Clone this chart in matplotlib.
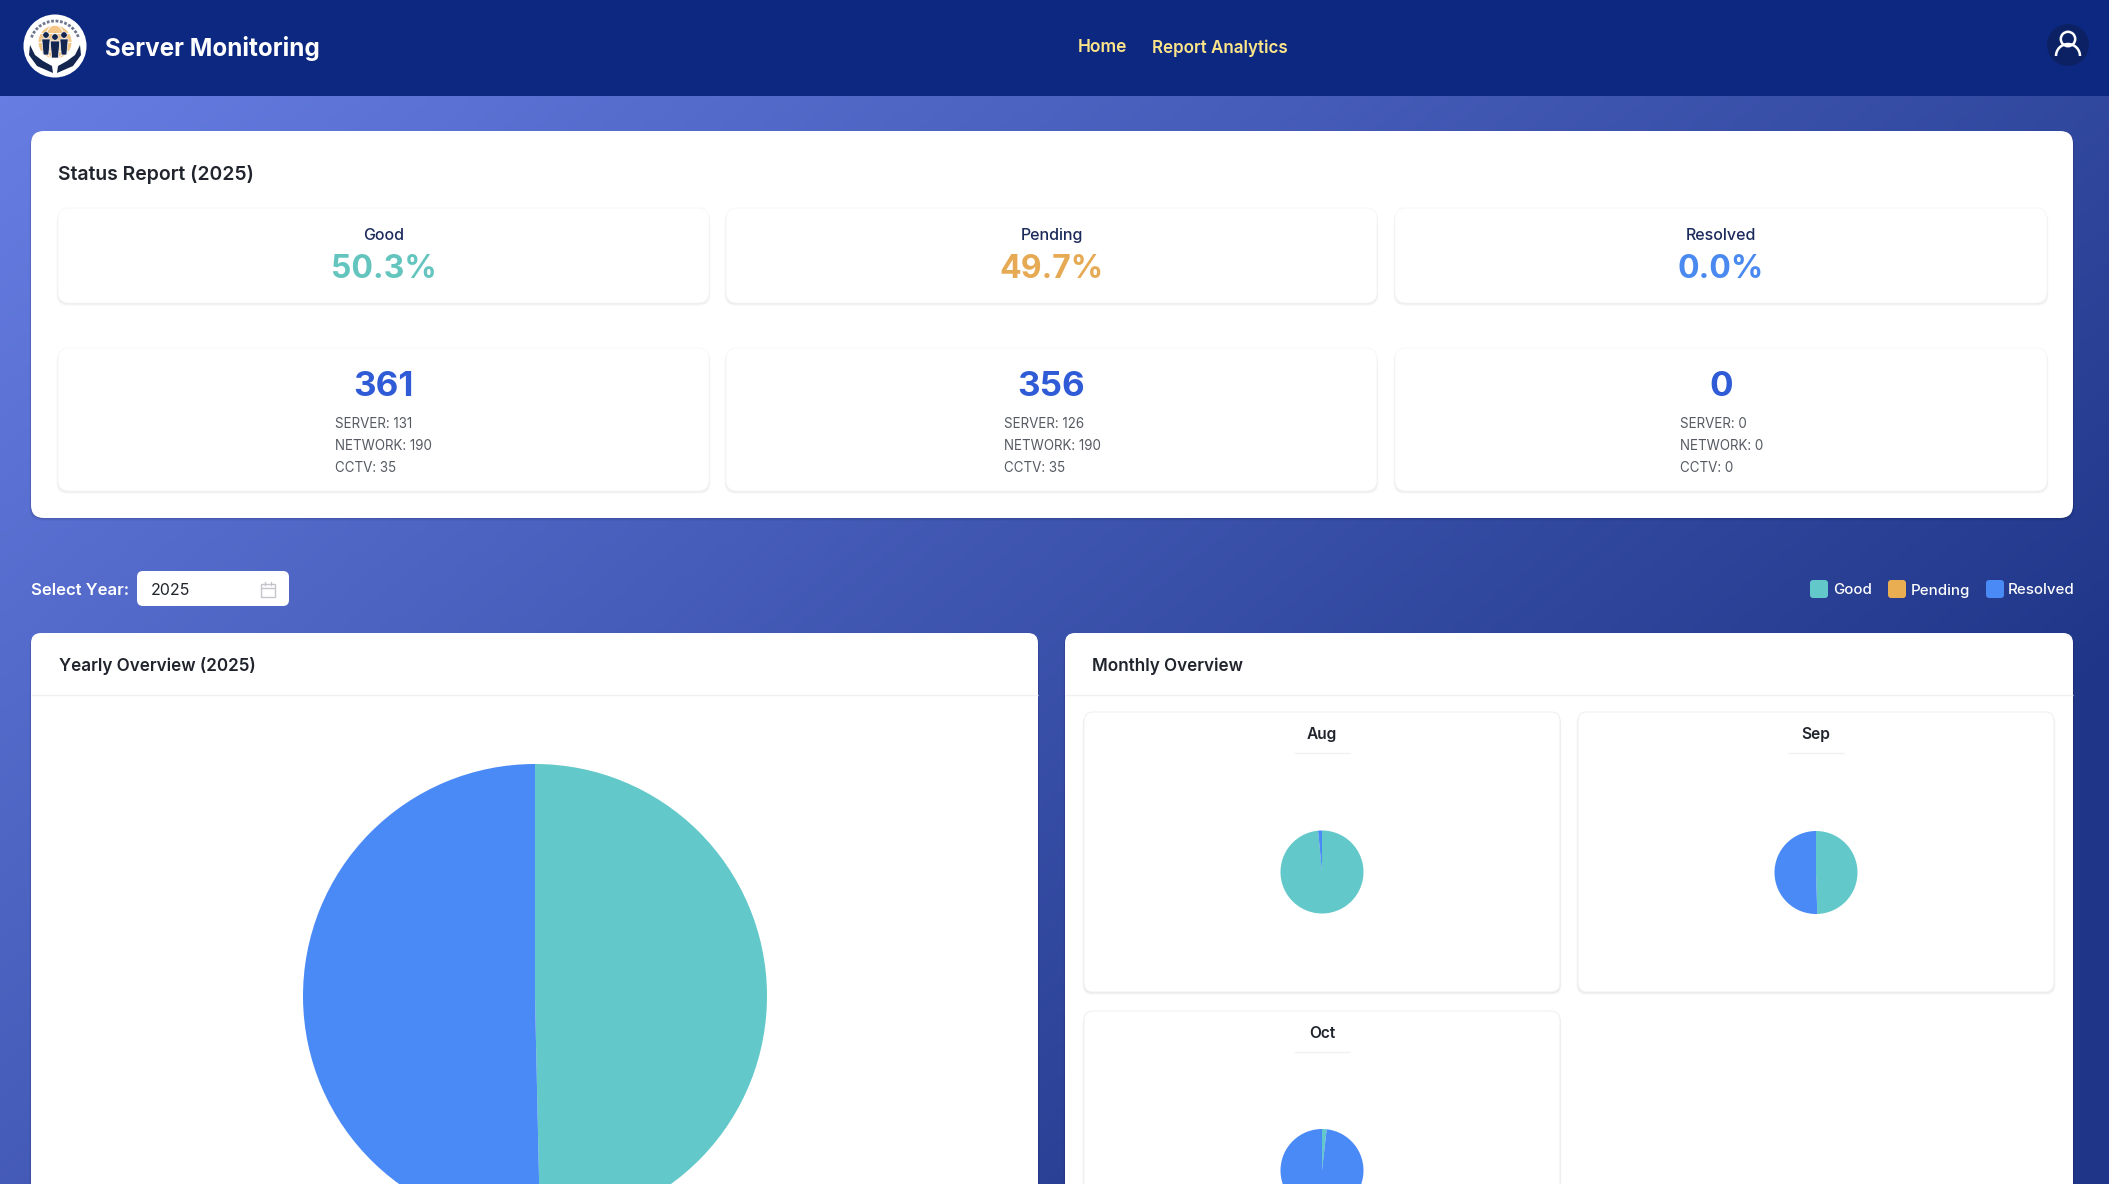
import numpy as np
import matplotlib
matplotlib.use("Agg")
import matplotlib.pyplot as plt
from matplotlib.patches import FancyBboxPatch, Circle, Rectangle, Polygon, Arc, Ellipse
from matplotlib.colors import to_rgb

# ---------- data ----------
APP_TITLE = "Server Monitoring"
NAV_ITEMS = ["Home", "Report Analytics"]
STATUS_TITLE = "Status Report (2025)"
STATUSES = ["Good", "Pending", "Resolved"]
PERCENTS = ["50.3%", "49.7%", "0.0%"]
TOTALS = [361, 356, 0]
SERVER = [131, 126, 0]
NETWORK = [190, 190, 0]
CCTV = [35, 35, 0]
YEAR = "2025"
YEARLY_VALUES = [356, 361, 0]       # as drawn: Good, Pending, Resolved slices
MONTHS = ["Aug", "Sep", "Oct"]
MONTH_GOOD = [98.5, 49.5, 1.8]
MONTH_PENDING = [1.5, 50.5, 98.2]
MONTH_RESOLVED = [0, 0, 0]

# ---------- style ----------
W, H = 2109, 1184
TEAL, ORANGE, BLUE = "#62c8c9", "#e9ad52", "#4a8af6"
PCT_COLORS = ["#64c5bf", "#e6aa55", "#4a8af0"]
PIE_COLORS = [TEAL, BLUE, ORANGE]
NAVY = "#0d2880"
plt.rcParams["font.family"] = ["Inter", "Liberation Sans", "DejaVu Sans"]

fig = plt.figure(figsize=(W / 100, H / 100), dpi=100)
bg = fig.add_axes([0, 0, 1, 1])
bg.set_xlim(0, W)
bg.set_ylim(H, 0)
bg.axis("off")

# gradient page background
xx, yy = np.meshgrid(np.arange(0, W, 4), np.arange(0, H, 4))
t = np.clip(xx * 0.00034 + yy * 0.00042, 0, 1)[..., None]
c0, c1 = np.array(to_rgb("#6a80e6")), np.array(to_rgb("#1f3688"))
bg.imshow(c0 * (1 - t) + c1 * t, extent=[0, W, H, 0], aspect="auto", zorder=0)


def card(x0, y0, x1, y1, r=10, fc="white", ec="none", lw=0, shadow=True, z=1, sa=1.0):
    if shadow:
        for off, a in [(3, 0.02), (2, 0.03), (1, 0.04)]:
            bg.add_patch(FancyBboxPatch((x0 + r - off / 2, y0 + r + off), x1 - x0 - 2 * r + off, y1 - y0 - 2 * r,
                                        boxstyle=f"round,pad={r},rounding_size={r}", fc="black", ec="none",
                                        alpha=a * sa, zorder=z))
    bg.add_patch(FancyBboxPatch((x0 + r, y0 + r), x1 - x0 - 2 * r, y1 - y0 - 2 * r,
                                boxstyle=f"round,pad={r},rounding_size={r}", fc=fc, ec=ec, lw=lw, zorder=z + 0.1))


def txt(x, y, s, px, color="#1f2430", weight="normal", ha="center", z=10):
    bg.text(x, y, s, fontsize=px * 0.72, color=color, fontweight=weight, ha=ha,
            va="center_baseline", zorder=z)


def hline(x0, x1, y, col):
    bg.plot([x0, x1], [y, y], color=col, lw=1, zorder=4, solid_capstyle="butt")


# header
bg.add_patch(Rectangle((0, 0), W, 96, fc=NAVY, ec="none", zorder=1))
# logo
lx, ly = 55, 46
INK = "#14264f"
bg.add_patch(Circle((lx, ly), 31.5, fc="white", ec="none", zorder=2))
bg.add_patch(Arc((lx, ly), 50, 50, theta1=200, theta2=340, ec="#6f7890", lw=2, ls=(0, (1, 0.6)), zorder=2.1))
bg.add_patch(Circle((lx, 42), 17, fc="#f3c687", ec="none", zorder=2.1))
for rx in (34, 20):
    bg.add_patch(Ellipse((lx, 42), rx, 34, fc="none", ec="white", lw=0.7, zorder=2.2))
for py in (33, 42, 51):
    bg.plot([lx - 17, lx + 17], [py, py], color="white", lw=0.7, zorder=2.2)
for dx, head, bot, hw in [(-9, 35, 55, 4.2), (9, 35, 55, 4.2), (0, 37, 58, 4.8)]:
    bg.add_patch(Circle((lx + dx, head), 3.2, fc=INK, ec="white", lw=0.4, zorder=2.5))
    bg.add_patch(Polygon([(lx + dx - hw, head + 4), (lx + dx + hw, head + 4), (lx + dx + hw - 1.5, bot),
                          (lx + dx - hw + 1.5, bot)], fc=INK, ec="white", lw=0.5, zorder=2.5))
for sgn in (-1, 1):
    bg.add_patch(Polygon([(lx + sgn * 25, 45), (lx + sgn * 26, 55), (lx + sgn * 18, 66), (lx + sgn * 2, 73),
                          (lx + sgn * 3, 66), (lx + sgn * 12, 61), (lx + sgn * 20, 55)],
                         fc=INK, ec="none", zorder=2.4))
txt(105, 46, APP_TITLE, 24.2, "white", "bold", ha="left")
txt(1102, 46, NAV_ITEMS[0], 17.4, "#fde58a", "semibold")
txt(1220, 46, NAV_ITEMS[1], 17, "#fde58a", "semibold")
# user icon
ux, uy = 2068, 45
bg.add_patch(Circle((ux, uy), 21, fc="#0c2163", ec="none", zorder=2))
bg.add_patch(Circle((ux, uy - 6), 7.2, fc="none", ec="white", lw=1.8, zorder=3))
bg.add_patch(Arc((ux, uy + 11), 24, 24, theta1=180, theta2=360, ec="white", lw=1.8, zorder=3))

# status panel
card(31, 131, 2073, 518, r=13, sa=1.5)
txt(58, 172.5, STATUS_TITLE, 19.4, "#20242c", "semibold", ha="left")
COLS = [(58, 709), (726, 1377), (1395, 2047)]
DETAIL_X = [335, 1004, 1680]
for i, (x0, x1) in enumerate(COLS):
    cx = (x0 + x1) / 2
    card(x0, 208, x1, 303, r=11, z=2, ec="#f8f8fa", lw=0.8)
    card(x0, 348, x1, 491, r=11, z=2, ec="#f8f8fa", lw=0.8)
    txt(cx, 234, STATUSES[i], 16, "#1c2b5c", "medium")
    txt(cx, 266, PERCENTS[i], 32, PCT_COLORS[i], "bold")
    txt(cx, 384, str(TOTALS[i]), 35, "#2f5cd6", "bold")
    txt(DETAIL_X[i], 422, f"SERVER: {SERVER[i]}", 13.4, "#555a63", ha="left")
    txt(DETAIL_X[i], 444, f"NETWORK: {NETWORK[i]}", 13.4, "#555a63", ha="left")
    txt(DETAIL_X[i], 466, f"CCTV: {CCTV[i]}", 13.4, "#555a63", ha="left")

# year selector
txt(31, 589, "Select Year:", 16.7, "white", "semibold", ha="left")
card(137, 571, 289, 606, r=6, shadow=False, z=2)
txt(151, 589, YEAR, 16, "#20242c", ha="left")
bg.add_patch(Rectangle((261, 584), 14, 12.5, fc="none", ec="#c4c6cc", lw=1, zorder=5))
hline(261, 275, 588, "#c4c6cc")
for vx in (265, 271):
    bg.plot([vx, vx], [582, 585], color="#c4c6cc", lw=1, zorder=5)

# legend
LEG_SQ = [1810, 1888, 1986]
LEG_TX = [1833, 1911, 2008]
for s, sx, tx, col in zip(STATUSES, LEG_SQ, LEG_TX, [TEAL, ORANGE, BLUE]):
    bg.add_patch(FancyBboxPatch((sx + 3, 583), 12, 12, boxstyle="round,pad=3,rounding_size=3", fc=col, ec="none", zorder=3))
    txt(tx, 589, s, 15.1, "white", "medium", ha="left")

# overview cards
card(31, 633, 1038, 1230, r=10, sa=1.5)
card(1065, 633, 2073, 1230, r=10, sa=1.5)
hline(31, 1038, 695, "#eef0f3")
hline(1065, 2073, 695, "#eef0f3")
txt(59, 664, "Yearly Overview (2025)", 17.1, "#20242c", "semibold", ha="left")
txt(1092, 664, "Monthly Overview", 17.1, "#20242c", "semibold", ha="left")


def pie_axes(cx, cy, r, values):
    ax = fig.add_axes([(cx - r) / W, 1 - (cy + r) / H, 2 * r / W, 2 * r / H], zorder=5)
    ax.pie(values, colors=PIE_COLORS, startangle=90, counterclock=False, radius=1,
           wedgeprops=dict(linewidth=0))
    ax.set_xlim(-1, 1)
    ax.set_ylim(-1, 1)
    ax.patch.set_visible(False)
    return ax


pie_axes(535, 996, 232, YEARLY_VALUES)

MINI = [(1084, 1560, 712, 992, 1322, 872), (1578, 2054, 712, 992, 1816, 872.5), (1084, 1560, 1011, 1290, 1322, 1170.5)]
for m, g, p, rs, (x0, x1, y0, y1, cx, cy) in zip(MONTHS, MONTH_GOOD, MONTH_PENDING, MONTH_RESOLVED, MINI):
    card(x0, y0, x1, y1, r=9, z=2, ec="#f0f1f4", lw=0.8)
    txt(cx, y0 + 21, m, 15.5, "#20242c", "semibold")
    hline(cx - 28, cx + 28, y0 + 41, "#f0f1f4")
    pie_axes(cx, cy, 41.5, [g, p, rs])

fig.savefig("out.png", dpi=100)
